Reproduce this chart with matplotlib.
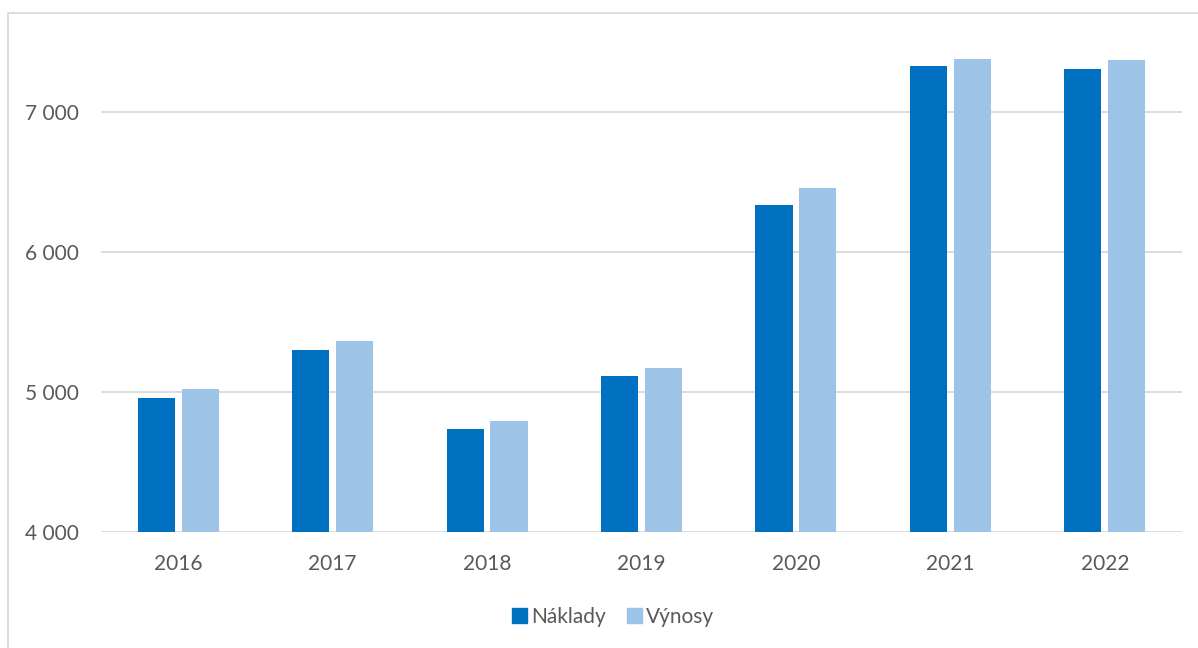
import matplotlib
matplotlib.use("Agg")
import matplotlib.pyplot as plt
from matplotlib.patches import Rectangle, Patch
import numpy as np

years = ["2016", "2017", "2018", "2019", "2020", "2021", "2022"]
naklady = [4957, 5300, 4736, 5114, 6336, 7329, 7307]
vynosy = [5021, 5364, 4793, 5171, 6457, 7379, 7371]
yticks = [4000, 5000, 6000, 7000]
ytick_labels = ["4 000", "5 000", "6 000", "7 000"]

c_nak = "#0070C0"
c_vyn = "#9DC3E6"
grid_c = "#D9D9D9"
text_c = "#595959"

plt.rcParams['font.family'] = ['Lato', 'DejaVu Sans']

W, H = 1198, 648
fig = plt.figure(figsize=(W / 100, H / 100), dpi=100)
fig.patch.set_facecolor("white")

# outer frame
fig.patches.append(Rectangle((8 / W, -0.1), 1.2, (H - 13) / H + 0.1, transform=fig.transFigure,
                             fill=False, edgecolor=grid_c, linewidth=1.3, zorder=0))

left, right, bottom, top = 101, 1182, 532, 42
ax = fig.add_axes([left / W, 1 - bottom / H, (right - left) / W, (bottom - top) / H])
ax.set_facecolor("none")

x = np.arange(len(years))
bw = 0.24
off = 0.142
ax.bar(x - off, [v - 4000 for v in naklady], bw, bottom=4000, color=c_nak, zorder=3, label="Náklady")
ax.bar(x + off, [v - 4000 for v in vynosy], bw, bottom=4000, color=c_vyn, zorder=3, label="Výnosy")

ax.set_xlim(-0.5, len(years) - 0.5)
ax.set_ylim(4000, 7500)
ax.set_yticks(yticks)
ax.set_yticklabels(ytick_labels)
ax.set_xticks(x)
ax.set_xticklabels(years)
ax.yaxis.grid(True, color=grid_c, linewidth=1.3, zorder=0)
for s in ax.spines.values():
    s.set_visible(False)
ax.tick_params(axis="both", length=0, labelsize=15, colors=text_c)
ax.tick_params(axis="y", pad=16)
ax.tick_params(axis="x", pad=16)

handles = [Patch(color=c_nak), Patch(color=c_vyn)]
fig.legend(handles, ["Náklady", "Výnosy"], loc="center", bbox_to_anchor=(613 / W, 1 - 617 / H),
           ncol=2, frameon=False, fontsize=15, handlelength=0.72, handleheight=0.72,
           handletextpad=0.2, columnspacing=1.0, labelcolor=text_c)

fig.savefig("out.png", dpi=100, facecolor="white")
